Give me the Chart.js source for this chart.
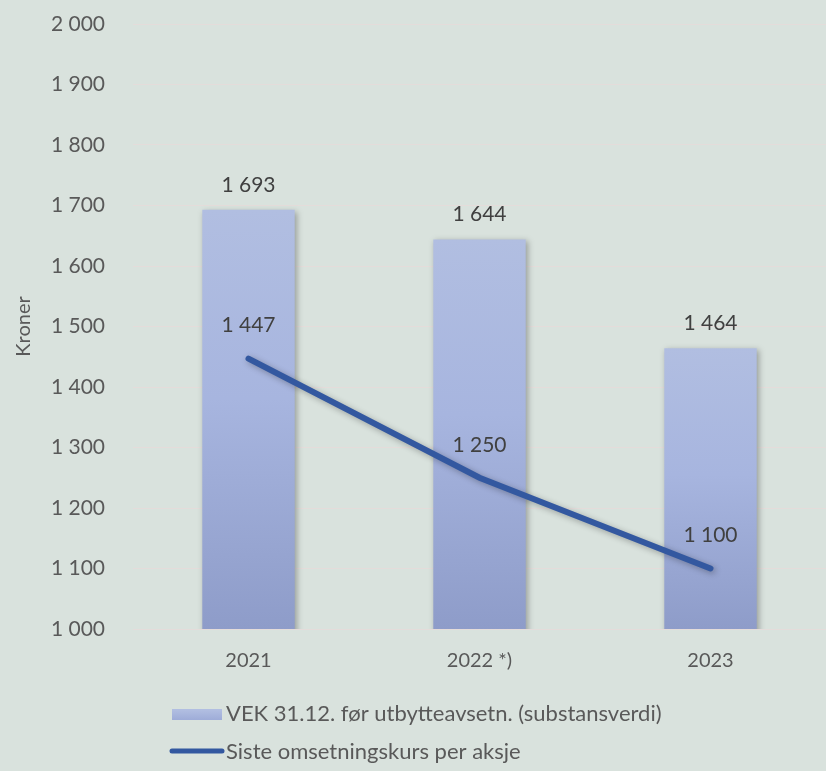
<!DOCTYPE html>
<html>
<head>
<meta charset="utf-8">
<script src="https://cdn.jsdelivr.net/npm/chart.js@4/dist/chart.umd.min.js"></script>
<style>
  html, body { margin: 0; padding: 0; background: #d9e2dd; }
  #wrap { width: 826px; height: 771px; }
</style>
</head>
<body>
<div id="wrap"><canvas id="c" width="826" height="771"></canvas></div>
<script>
// data
const years      = ['2021', '2022 *)', '2023'];
const vekValues  = [1693, 1644, 1464];
const kursValues = [1447, 1250, 1100];
const yTicks     = [1000, 1100, 1200, 1300, 1400, 1500, 1600, 1700, 1800, 1900, 2000];

const barLabel  = 'VEK 31.12. før utbytteavsetn. (substansverdi)';
const lineLabel = 'Siste omsetningskurs per aksje';

const FONT = "Lato, 'Open Sans', sans-serif";
const fmt = n => String(n).replace(/\B(?=(\d{3})+(?!\d))/g, ' ');

// gradient per bar, from its top down to the axis
function barFill(context) {
  const chart = context.chart;
  const area = chart.chartArea;
  if (!area) return '#a5b3dc';
  const top = chart.scales.y.getPixelForValue(context.raw);
  const g = chart.ctx.createLinearGradient(0, top, 0, area.bottom);
  g.addColorStop(0, '#b1bee1');
  g.addColorStop(0.45, '#a7b5df');
  g.addColorStop(1, '#8e9cc9');
  return g;
}

const shadowPlugin = {
  id: 'shadows',
  beforeDatasetDraw(chart) {
    const ctx = chart.ctx;
    ctx.save();
    ctx.shadowColor = 'rgba(0,0,0,0.3)';
    ctx.shadowBlur = 6;
    ctx.shadowOffsetX = 2;
    ctx.shadowOffsetY = 2;
  },
  afterDatasetDraw(chart) {
    chart.ctx.restore();
  },
};

const labelPlugin = {
  id: 'valueLabels',
  afterDatasetsDraw(chart) {
    const ctx = chart.ctx;
    ctx.save();
    ctx.font = '21px ' + FONT;
    ctx.fillStyle = '#404040';
    ctx.textAlign = 'center';
    ctx.textBaseline = 'middle';
    // dataset 0 = line, dataset 1 = bars
    chart.getDatasetMeta(1).data.forEach((el, i) => {
      ctx.fillText(fmt(vekValues[i]), el.x, el.y - 25);
    });
    chart.getDatasetMeta(0).data.forEach((el, i) => {
      ctx.fillText(fmt(kursValues[i]), el.x, el.y - 33);
    });
    ctx.restore();
  },
};

const legendPlugin = {
  id: 'bottomLegend',
  afterDraw(chart) {
    const ctx = chart.ctx;
    ctx.save();
    const g = ctx.createLinearGradient(0, 710, 0, 720);
    g.addColorStop(0, '#b1bee1');
    g.addColorStop(1, '#9eacd8');
    ctx.fillStyle = g;
    ctx.fillRect(172, 709, 50, 11);
    ctx.strokeStyle = '#3358a0';
    ctx.lineWidth = 5;
    ctx.lineCap = 'round';
    ctx.beginPath();
    ctx.moveTo(172, 751);
    ctx.lineTo(222, 751);
    ctx.stroke();
    ctx.font = '22px ' + FONT;
    ctx.fillStyle = '#595959';
    ctx.textBaseline = 'middle';
    ctx.fillText(barLabel, 226, 714);
    ctx.fillText(lineLabel, 226, 752);
    ctx.restore();
  },
};

new Chart(document.getElementById('c'), {
  data: {
    labels: years,
    datasets: [
      {
        type: 'line',
        label: lineLabel,
        data: kursValues,
        borderColor: '#3358a0',
        borderWidth: 6,
        borderCapStyle: 'round',
        pointRadius: 0,
        tension: 0,
        order: 0,
      },
      {
        type: 'bar',
        label: barLabel,
        data: vekValues,
        backgroundColor: barFill,
        borderWidth: 0,
        categoryPercentage: 1,
        barPercentage: 0.4,
        order: 1,
      },
    ],
  },
  options: {
    responsive: false,
    animation: false,
    layout: { padding: { top: 24, right: 0, bottom: 0, left: 0 } },
    plugins: {
      legend: { display: false },
      tooltip: { enabled: false },
    },
    scales: {
      x: {
        grid: { display: false },
        border: { display: false },
        ticks: { color: '#595959', font: { family: FONT, size: 20 }, padding: 12 },
        afterFit: s => { s.height = 142; },
      },
      y: {
        min: 1000,
        max: 2000,
        afterBuildTicks: s => { s.ticks = yTicks.map(v => ({ value: v })); },
        grid: { color: '#e4dcda', lineWidth: 1, drawTicks: false },
        border: { display: false },
        ticks: {
          color: '#595959',
          font: { family: FONT, size: 21 },
          padding: 28,
          callback: v => fmt(v),
        },
        title: {
          display: true,
          text: 'Kroner',
          color: '#595959',
          font: { family: FONT, size: 20 },
          padding: { top: 12, bottom: 0 },
        },
        afterFit: s => { s.width = 133; s.paddingTop = 0; s.paddingBottom = 0; },
      },
    },
  },
  plugins: [shadowPlugin, labelPlugin, legendPlugin],
});
</script>
</body>
</html>
